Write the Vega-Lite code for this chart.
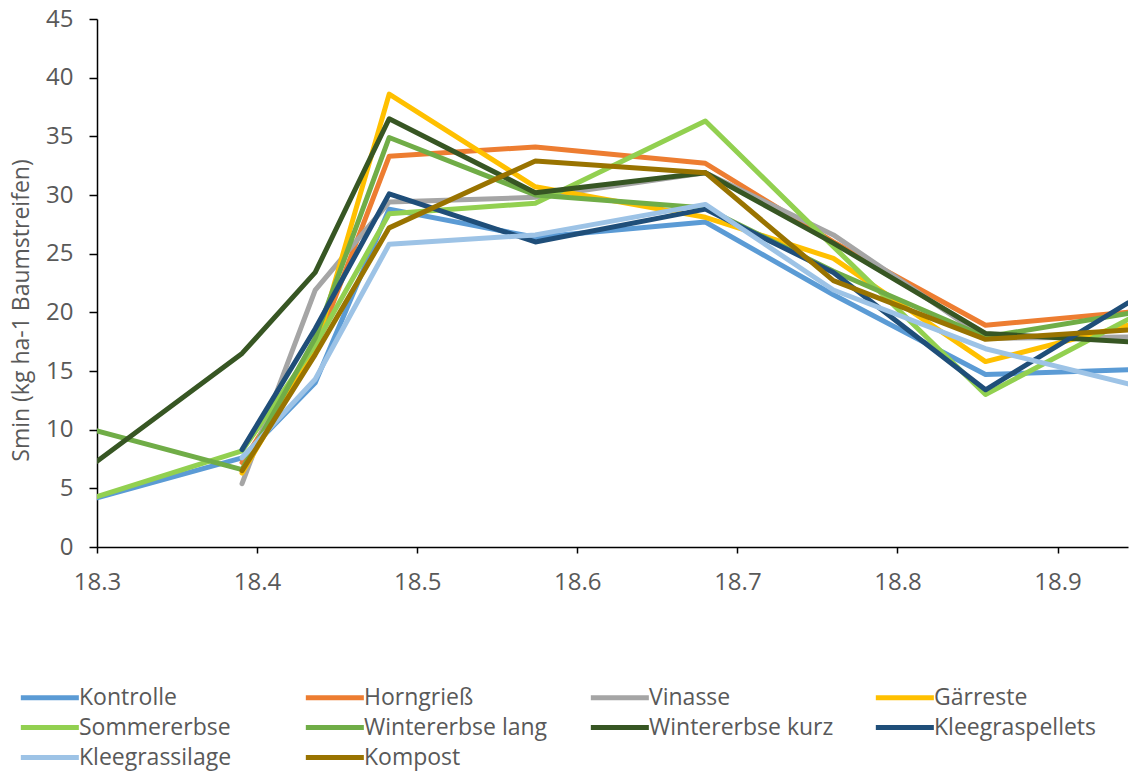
{
  "$schema": "https://vega.github.io/schema/vega-lite/v6.json",
  "width": 1031,
  "height": 528,
  "autosize": {"type": "none"},
  "padding": {"left": 97, "top": 19, "right": 1, "bottom": 224},
  "background": "white",
  "config": {
    "view": {"stroke": null},
    "font": "Open Sans"
  },
  "data": {
    "values": [
      {"s": "Kontrolle", "x": 18.3, "y": 4.2},
      {"s": "Kontrolle", "x": 18.3906, "y": 7.6},
      {"s": "Kontrolle", "x": 18.4363, "y": 14.0},
      {"s": "Kontrolle", "x": 18.4825, "y": 28.8},
      {"s": "Kontrolle", "x": 18.5738, "y": 26.4},
      {"s": "Kontrolle", "x": 18.68, "y": 27.7},
      {"s": "Kontrolle", "x": 18.76, "y": 21.5},
      {"s": "Kontrolle", "x": 18.855, "y": 14.7},
      {"s": "Kontrolle", "x": 18.944, "y": 15.1},

      {"s": "Horngrieß", "x": 18.3906, "y": 7.2},
      {"s": "Horngrieß", "x": 18.4363, "y": 16.8},
      {"s": "Horngrieß", "x": 18.4825, "y": 33.3},
      {"s": "Horngrieß", "x": 18.5738, "y": 34.1},
      {"s": "Horngrieß", "x": 18.68, "y": 32.7},
      {"s": "Horngrieß", "x": 18.76, "y": 26.0},
      {"s": "Horngrieß", "x": 18.855, "y": 18.9},
      {"s": "Horngrieß", "x": 18.944, "y": 20.0},

      {"s": "Vinasse", "x": 18.3906, "y": 5.4},
      {"s": "Vinasse", "x": 18.4363, "y": 21.9},
      {"s": "Vinasse", "x": 18.4825, "y": 29.4},
      {"s": "Vinasse", "x": 18.5738, "y": 29.8},
      {"s": "Vinasse", "x": 18.68, "y": 31.9},
      {"s": "Vinasse", "x": 18.76, "y": 26.6},
      {"s": "Vinasse", "x": 18.855, "y": 17.8},
      {"s": "Vinasse", "x": 18.944, "y": 17.9},

      {"s": "Gärreste", "x": 18.3906, "y": 6.3},
      {"s": "Gärreste", "x": 18.4363, "y": 16.8},
      {"s": "Gärreste", "x": 18.4825, "y": 38.6},
      {"s": "Gärreste", "x": 18.5738, "y": 30.7},
      {"s": "Gärreste", "x": 18.68, "y": 28.1},
      {"s": "Gärreste", "x": 18.76, "y": 24.6},
      {"s": "Gärreste", "x": 18.855, "y": 15.8},
      {"s": "Gärreste", "x": 18.944, "y": 18.9},

      {"s": "Sommererbse", "x": 18.3, "y": 4.3},
      {"s": "Sommererbse", "x": 18.3906, "y": 8.2},
      {"s": "Sommererbse", "x": 18.4363, "y": 17.2},
      {"s": "Sommererbse", "x": 18.4825, "y": 28.4},
      {"s": "Sommererbse", "x": 18.5738, "y": 29.3},
      {"s": "Sommererbse", "x": 18.68, "y": 36.3},
      {"s": "Sommererbse", "x": 18.76, "y": 25.6},
      {"s": "Sommererbse", "x": 18.855, "y": 13.0},
      {"s": "Sommererbse", "x": 18.944, "y": 19.4},

      {"s": "Wintererbse lang", "x": 18.3, "y": 9.9},
      {"s": "Wintererbse lang", "x": 18.3906, "y": 6.6},
      {"s": "Wintererbse lang", "x": 18.4363, "y": 17.8},
      {"s": "Wintererbse lang", "x": 18.4825, "y": 34.9},
      {"s": "Wintererbse lang", "x": 18.5738, "y": 30.0},
      {"s": "Wintererbse lang", "x": 18.68, "y": 28.9},
      {"s": "Wintererbse lang", "x": 18.76, "y": 23.5},
      {"s": "Wintererbse lang", "x": 18.855, "y": 17.9},
      {"s": "Wintererbse lang", "x": 18.944, "y": 19.9},

      {"s": "Wintererbse kurz", "x": 18.3, "y": 7.3},
      {"s": "Wintererbse kurz", "x": 18.3906, "y": 16.5},
      {"s": "Wintererbse kurz", "x": 18.4363, "y": 23.4},
      {"s": "Wintererbse kurz", "x": 18.4825, "y": 36.5},
      {"s": "Wintererbse kurz", "x": 18.5738, "y": 30.2},
      {"s": "Wintererbse kurz", "x": 18.68, "y": 31.9},
      {"s": "Wintererbse kurz", "x": 18.76, "y": 25.9},
      {"s": "Wintererbse kurz", "x": 18.855, "y": 18.2},
      {"s": "Wintererbse kurz", "x": 18.944, "y": 17.5},

      {"s": "Kleegraspellets", "x": 18.3906, "y": 8.3},
      {"s": "Kleegraspellets", "x": 18.4363, "y": 18.6},
      {"s": "Kleegraspellets", "x": 18.4825, "y": 30.1},
      {"s": "Kleegraspellets", "x": 18.5738, "y": 26.0},
      {"s": "Kleegraspellets", "x": 18.68, "y": 28.8},
      {"s": "Kleegraspellets", "x": 18.76, "y": 23.4},
      {"s": "Kleegraspellets", "x": 18.855, "y": 13.4},
      {"s": "Kleegraspellets", "x": 18.944, "y": 20.8},

      {"s": "Kleegrassilage", "x": 18.3906, "y": 7.6},
      {"s": "Kleegrassilage", "x": 18.4363, "y": 14.3},
      {"s": "Kleegrassilage", "x": 18.4825, "y": 25.8},
      {"s": "Kleegrassilage", "x": 18.5738, "y": 26.6},
      {"s": "Kleegrassilage", "x": 18.68, "y": 29.2},
      {"s": "Kleegrassilage", "x": 18.76, "y": 21.9},
      {"s": "Kleegrassilage", "x": 18.855, "y": 16.9},
      {"s": "Kleegrassilage", "x": 18.944, "y": 13.9},

      {"s": "Kompost", "x": 18.3906, "y": 6.5},
      {"s": "Kompost", "x": 18.4363, "y": 16.4},
      {"s": "Kompost", "x": 18.4825, "y": 27.2},
      {"s": "Kompost", "x": 18.5738, "y": 32.9},
      {"s": "Kompost", "x": 18.68, "y": 31.9},
      {"s": "Kompost", "x": 18.76, "y": 22.7},
      {"s": "Kompost", "x": 18.855, "y": 17.7},
      {"s": "Kompost", "x": 18.944, "y": 18.5}
    ]
  },
  "mark": {"type": "line", "strokeWidth": 5, "strokeJoin": "round", "strokeCap": "round", "clip": true},
  "encoding": {
    "x": {
      "field": "x",
      "type": "quantitative",
      "scale": {"domain": [18.3, 18.944], "nice": false, "zero": false},
      "axis": {
        "title": null,
        "values": [18.3, 18.4, 18.5, 18.6, 18.7, 18.8, 18.9],
        "format": ".1f",
        "grid": false,
        "domainColor": "#000000",
        "domainWidth": 1.5,
        "tickColor": "#000000",
        "tickWidth": 1.5,
        "tickSize": 6,
        "labelFontSize": 24,
        "labelColor": "#595959",
        "labelPadding": 17,
        "labelFont": "Open Sans",
        "labelFlush": false
      }
    },
    "y": {
      "field": "y",
      "type": "quantitative",
      "scale": {"domain": [0, 45], "nice": false},
      "axis": {
        "title": "Smin (kg ha-1 Baumstreifen)",
        "values": [0, 5, 10, 15, 20, 25, 30, 35, 40, 45],
        "grid": false,
        "domainColor": "#000000",
        "domainWidth": 1.5,
        "tickColor": "#000000",
        "tickWidth": 1.5,
        "tickSize": 8,
        "labelFontSize": 24,
        "labelColor": "#595959",
        "labelPadding": 16,
        "labelFont": "Open Sans",
        "titleFont": "Open Sans",
        "titleFontSize": 23,
        "titleFontWeight": "normal",
        "titleColor": "#595959",
        "titlePadding": 12,
        "titleY": 291
      }
    },
    "color": {
      "field": "s",
      "type": "nominal",
      "scale": {
        "domain": ["Kontrolle", "Horngrieß", "Vinasse", "Gärreste", "Sommererbse", "Wintererbse lang", "Wintererbse kurz", "Kleegraspellets", "Kleegrassilage", "Kompost"],
        "range": ["#5B9BD5", "#ED7D31", "#A5A5A5", "#FFC000", "#92D050", "#70AD47", "#375623", "#1F4E79", "#9DC3E6", "#997300"]
      },
      "legend": {
        "title": null,
        "orient": "none",
        "legendX": -79,
        "legendY": 666,
        "direction": "horizontal",
        "columns": 4,
        "gridAlign": "all",
        "columnPadding": 31,
        "rowPadding": 5,
        "symbolType": "M-1,0H5",
        "symbolSize": 374,
        "symbolStrokeWidth": 5,
        "labelFontSize": 23,
        "labelFont": "Open Sans",
        "labelColor": "#595959",
        "labelOffset": 36,
        "labelLimit": 300
      }
    }
  }
}
